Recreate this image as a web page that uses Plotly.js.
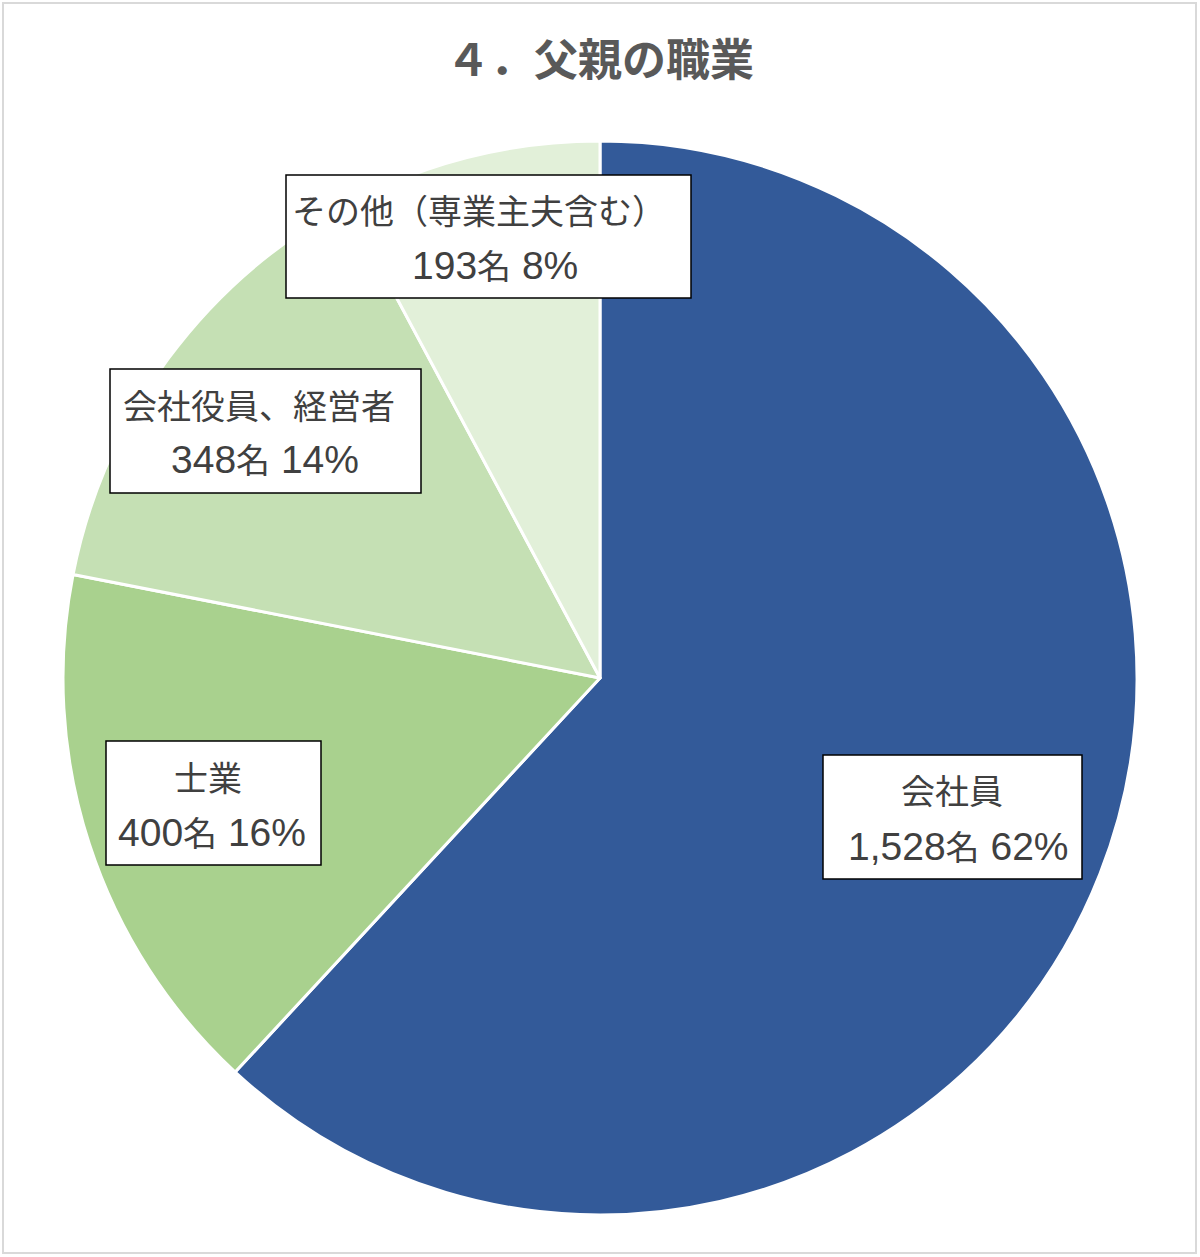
<!DOCTYPE html>
<html>
<head>
<meta charset="utf-8">
<script src="https://cdn.plot.ly/plotly-3.0.1.min.js"></script>
<style>html,body{margin:0;padding:0;background:#fff;}#chart{width:1200px;height:1257px;}</style>
</head>
<body>
<div id="chart"></div>
<script>
// Data
const categories = ["会社員", "士業", "会社役員、経営者", "その他（専業主夫含む）"];
const counts = [1528, 400, 348, 193];
const countLabels = ["1,528", "400", "348", "193"];
const unitLabel = "名";
const percentLabels = ["62%", "16%", "14%", "8%"];
const colors = ["#335A99", "#A9D18E", "#C5E0B4", "#E2F0D9"];
const chartTitle = "４．父親の職業";

const W = 1200, H = 1257;
const px = x => x / W;
const py = y => 1 - y / H;

// label boxes (pixel layout: left, top, right, bottom)
const boxes = [
  [823, 755, 1082, 879],
  [106, 741, 321, 865],
  [110, 369, 421, 493],
  [286, 175, 691, 298]
];
const line1X = [952, 208, 259, 479];
const line2X = [958, 212, 265, 495];

const shapes = [{
  type: 'rect', xref: 'paper', yref: 'paper',
  x0: px(3), x1: px(1196), y0: py(3), y1: py(1253),
  line: {color: '#d9d9d9', width: 2}, fillcolor: 'rgba(0,0,0,0)', layer: 'below'
}];
const annotations = [];
const txtFont = {family: '"Noto Sans CJK JP", sans-serif', size: 34, color: '#404040'};
const big = s => '<span style="font-size:39px;font-family:\'Liberation Sans\'">' + s + '</span>';
boxes.forEach((b, i) => {
  shapes.push({
    type: 'rect', xref: 'paper', yref: 'paper',
    x0: px(b[0]), x1: px(b[2]), y0: py(b[3]), y1: py(b[1]),
    line: {color: '#000000', width: 1.5}, fillcolor: '#ffffff', layer: 'above'
  });
  const cy = (b[1] + b[3]) / 2;
  annotations.push({
    xref: 'paper', yref: 'paper', x: px(line1X[i]), y: py(cy - 27),
    xanchor: 'center', yanchor: 'middle', showarrow: false,
    text: categories[i], font: txtFont
  });
  annotations.push({
    xref: 'paper', yref: 'paper', x: px(line2X[i]), y: py(cy + 28),
    xanchor: 'center', yanchor: 'middle', showarrow: false,
    text: big(countLabels[i]) + unitLabel + big(' ' + percentLabels[i]), font: txtFont
  });
});

const cx = 600, cyPie = 678, R = 537;
const trace = {
  type: 'pie',
  labels: categories,
  values: counts,
  sort: false,
  direction: 'clockwise',
  rotation: 0,
  textinfo: 'none',
  hoverinfo: 'none',
  marker: {colors: colors, line: {color: '#ffffff', width: 3}},
  domain: {x: [px(cx - R), px(cx + R)], y: [py(cyPie + R), py(cyPie - R)]},
  showlegend: false
};

const layout = {
  width: W, height: H,
  margin: {l: 0, r: 0, t: 0, b: 0},
  paper_bgcolor: '#ffffff',
  title: {
    text: '<b>' + chartTitle + '</b>',
    x: 0.5, xanchor: 'center', y: py(61), yanchor: 'middle', yref: 'paper',
    font: {family: '"Noto Sans CJK JP", sans-serif', size: 44, color: '#595959'}
  },
  shapes: shapes,
  annotations: annotations,
  showlegend: false
};

Plotly.newPlot('chart', [trace], layout, {staticPlot: true, displayModeBar: false});
</script>
</body>
</html>
